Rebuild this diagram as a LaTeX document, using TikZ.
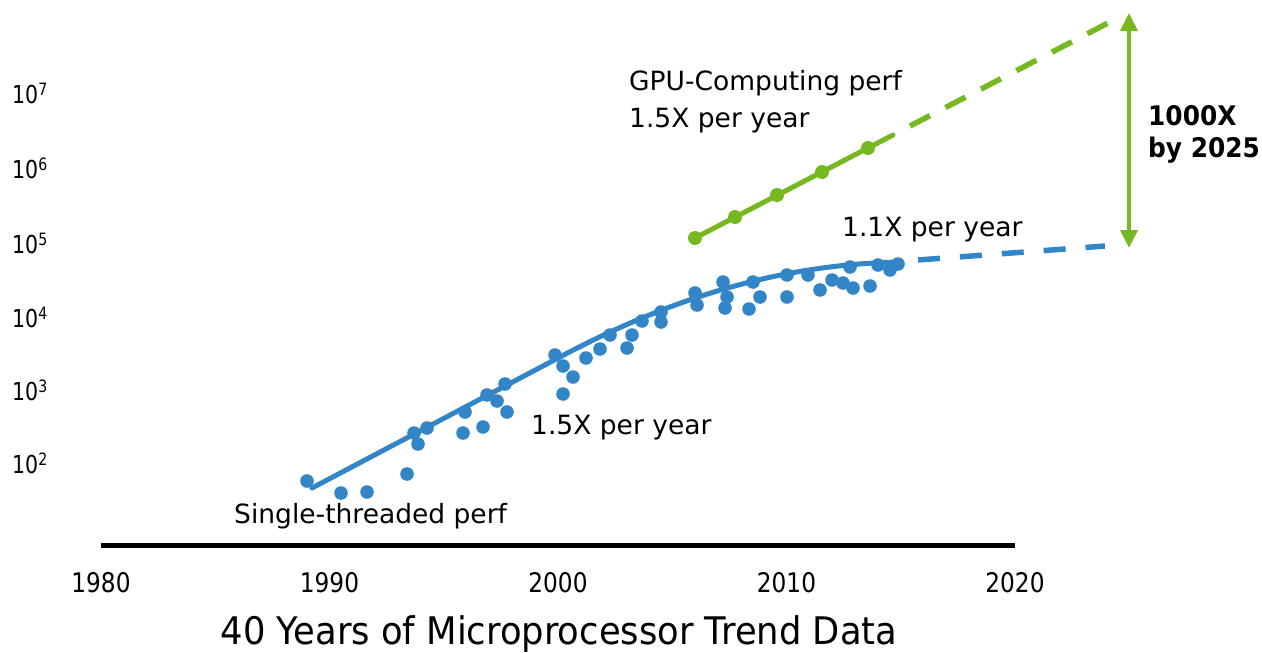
\documentclass[tikz,border=0pt]{standalone}
\usepackage{fontspec}
\setmainfont{DejaVu Sans}
\newfontfamily\yearfont[FakeStretch=0.86]{DejaVu Sans}
\newfontfamily\powfont[FakeStretch=0.83]{DejaVu Sans}
\newfontfamily\titlefont[FakeStretch=0.93]{DejaVu Sans}
\newfontfamily\notefont[FakeStretch=0.92]{DejaVu Sans}
\usetikzlibrary{arrows.meta}
\definecolor{cpublue}{RGB}{50,133,198}
\definecolor{gpugreen}{RGB}{118,184,32}
\tikzset{
  lbl/.style={inner sep=0pt, anchor=base west, font=\fontsize{26.5}{30}\selectfont, text=black},
  yearlbl/.style={inner sep=0pt, anchor=base, font=\yearfont\fontsize{27}{30}\selectfont},
  powlbl/.style={inner sep=0pt, anchor=base west, font=\powfont\fontsize{24.7}{28}\selectfont},
  cpudot/.style={fill=cpublue, draw=none},
  gpudot/.style={fill=gpugreen, draw=none},
  trend/.style={line width=5pt, line cap=round},
  projection/.style={line width=5.5pt, dash pattern=on 22pt off 20pt},
}
\newcommand{\pow}[1]{10\raisebox{8pt}{\fontsize{17}{18}\selectfont #1}}
\begin{document}
\begin{tikzpicture}[x=1pt,y=-1pt]
\useasboundingbox (0,0) rectangle (1262,653);

% time axis
\coordinate (axL) at (101,545);
\coordinate (axR) at (1015,545);
\draw[line width=5pt] (axL) -- (axR);
\foreach \yr/\xx in {1980/101,1990/329.5,2000/558,2010/786.5,2020/1015}
  \node[yearlbl] (yr\yr) at (\xx,592) {\yr};
\node[inner sep=0pt, anchor=base, font=\titlefont\fontsize{38}{42}\selectfont]
  (title) at (559,644) {40 Years of Microprocessor Trend Data};

% performance scale
\foreach \e/\yy in {7/103,6/178,5/253,4/327,3/400,2/473}
  \node[powlbl] (pow\e) at (12,\yy) {\pow{\e}};

% single-threaded trend
\coordinate (cpuA) at (312,488);
\coordinate (cpuB) at (560,357);
\coordinate (cpuC) at (900,262);
\coordinate (cpuD) at (918,260);
\coordinate (cpuE) at (1105,246);
\draw[cpublue, trend] (cpuA) -- (cpuB) .. controls (680,293) and (790,264) .. (cpuC);
\draw[cpublue, projection] (cpuD) -- (cpuE);

\foreach \px/\py in {307/481,341/493,367/492,407/474,414/433,418/444,427/428,
  463/433,465/412,483/427,487/395,497/401,507/412,505/384,
  555/355,563/366,573/377,563/394,586/358,600/349,610/335,632/335,627/348,
  642/321,661/312,661/322,695/293,697/305,
  723/282,727/297,725/308,749/309,753/282,760/297,787/275,787/297,808/275,
  820/290,832/280,843/283,853/288,850/267,870/286,878/265,890/270,898/264}
  \fill[cpudot] (\px,\py) circle (6.8);

% GPU-computing trend
\coordinate (gpuA) at (695,238);
\coordinate (gpuB) at (893,135);
\coordinate (gpuC) at (910,126);
\coordinate (gpuD) at (1108,23);
\draw[gpugreen, trend] (gpuA) -- (gpuB);
\draw[gpugreen, projection, dash pattern=on 22.5pt off 17.5pt] (gpuC) -- (gpuD);
\foreach \px/\py in {695/238,735/217,777/195,822/172,868/148}
  \fill[gpudot] (\px,\py) circle (7);

% gap between the two projections
\coordinate (gapTop) at (1129,13);
\coordinate (gapBot) at (1129,248);
\draw[gpugreen, line width=4pt, {Triangle[width=17pt,length=18pt]}-{Triangle[width=17pt,length=18pt]}] (gapTop) -- (gapBot);
\node[lbl, font=\notefont\bfseries\fontsize{27}{30}\selectfont] (gapA) at (1148,125) {1000X};
\node[lbl, font=\notefont\bfseries\fontsize{27}{30}\selectfont] (gapB) at (1148,157) {by 2025};

% labels
\node[lbl] (gpuname) at (629,90) {GPU-Computing perf};
\node[lbl] (gpurate) at (629,127) {1.5X per year};
\node[lbl] (cpulate) at (842,236) {1.1X per year};
\node[lbl] (cpuearly) at (531,434) {1.5X per year};
\node[lbl] (cpuname) at (234,523) {Single-threaded perf};
\end{tikzpicture}
\end{document}
